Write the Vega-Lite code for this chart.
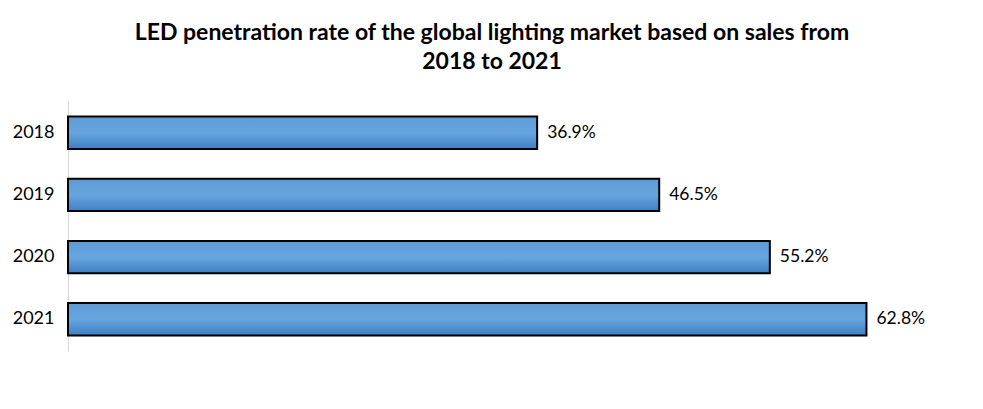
{
  "$schema": "https://vega.github.io/schema/vega-lite/v6.json",
  "autosize": "none",
  "width": 890,
  "height": 250,
  "padding": {"left": 68, "top": 101, "right": 25, "bottom": 58},
  "background": "white",
  "view": {"stroke": null},
  "title": {
    "text": ["LED penetration rate of the global lighting market based on sales from", "2018 to 2021"],
    "font": "Lato",
    "fontSize": 23,
    "fontWeight": "bold",
    "color": "#000000",
    "anchor": "middle",
    "dx": -21,
    "lineHeight": 29,
    "offset": 27
  },
  "data": {
    "values": [
      {"year": "2018", "rate": 36.9, "label": "36.9%"},
      {"year": "2019", "rate": 46.5, "label": "46.5%"},
      {"year": "2020", "rate": 55.2, "label": "55.2%"},
      {"year": "2021", "rate": 62.8, "label": "62.8%"}
    ]
  },
  "encoding": {
    "y": {
      "field": "year",
      "type": "nominal",
      "sort": ["2018", "2019", "2020", "2021"],
      "scale": {"paddingInner": 0.48, "paddingOuter": 0.25},
      "axis": {
        "title": null,
        "ticks": false,
        "grid": false,
        "domainColor": "#d9d9d9",
        "domainWidth": 1,
        "labelFont": "Lato",
        "labelFontSize": 18,
        "labelColor": "#000000",
        "labelPadding": 14
      }
    },
    "x": {
      "field": "rate",
      "type": "quantitative",
      "scale": {"domain": [0, 70]},
      "axis": null
    }
  },
  "layer": [
    {
      "mark": {
        "type": "bar",
        "stroke": "#000000",
        "strokeWidth": 2,
        "fill": {
          "gradient": "linear",
          "x1": 0, "y1": 0, "x2": 0, "y2": 1,
          "stops": [
            {"offset": 0, "color": "#5b9bd5"},
            {"offset": 0.5, "color": "#68a5e0"},
            {"offset": 1, "color": "#3f80c2"}
          ]
        }
      }
    },
    {
      "mark": {
        "type": "text",
        "align": "left",
        "baseline": "middle",
        "dx": 10,
        "font": "Lato",
        "fontSize": 17.5,
        "color": "#000000"
      },
      "encoding": {"text": {"field": "label"}}
    }
  ]
}
